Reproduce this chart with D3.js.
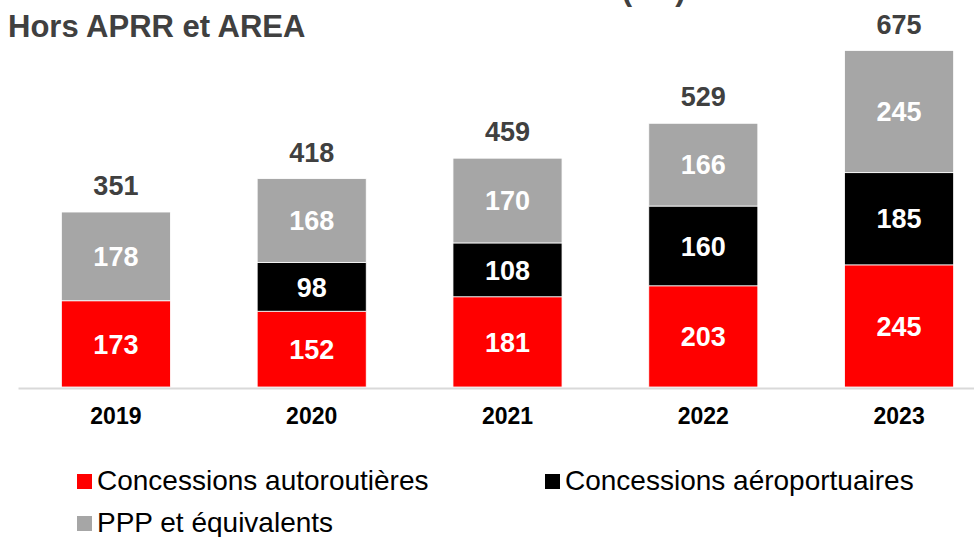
<!DOCTYPE html>
<meta charset="utf-8">
<style>
body { margin: 0; background: #fff; font-family: "Liberation Sans", Arial, sans-serif; }
svg { display: block; }
</style>
<body>
<script src="https://cdn.jsdelivr.net/npm/d3@7"></script>
<script>

// data
var years = ["2019", "2020", "2021", "2022", "2023"];
var autoroutes = [173, 152, 181, 203, 245];
var aeroports = [0, 98, 108, 160, 185];
var ppp = [178, 168, 170, 166, 245];
var totals = [351, 418, 459, 529, 675];
var seriesNames = ["Concessions autoroutières", "Concessions aéroportuaires", "PPP et équivalents"];
var seriesColors = ["#ff0000", "#000000", "#a6a6a6"];

var width = 974, height = 537;

var svg = d3.select("body").append("svg")
  .attr("width", width)
  .attr("height", height);

// title (first line is cut off at the top of the picture)
svg.append("text")
  .attr("x", 8).attr("y", 0)
  .style("font-size", "31px").style("font-weight", "bold").attr("fill", "#404040")
  .text("Chiffre d'affaires des autres concessions (M€)");
svg.append("text")
  .attr("x", 8).attr("y", 37)
  .style("font-size", "31px").style("font-weight", "bold").attr("fill", "#404040")
  .text("Hors APRR et AREA");

var x = d3.scaleBand()
  .domain(years)
  .range([18, 997])
  .paddingInner(0.443)
  .paddingOuter(0.2215);

var y = d3.scaleLinear()
  .domain([0, 675])
  .range([387, 50.5]);

var rows = years.map(function (yr, i) {
  return { year: yr, auto: autoroutes[i], aero: aeroports[i], ppp: ppp[i], total: totals[i] };
});

var stack = d3.stack().keys(["auto", "aero", "ppp"]);
var layers = stack(rows);

var g = svg.selectAll(".layer")
  .data(layers)
  .enter().append("g")
  .attr("class", "layer")
  .attr("fill", function (d, i) { return seriesColors[i]; });

g.selectAll("rect")
  .data(function (d) { return d.filter(function (s) { return s[1] - s[0] > 0; }); })
  .enter().append("rect")
  .attr("x", function (d) { return x(d.data.year); })
  .attr("y", function (d) { return y(d[1]); })
  .attr("width", x.bandwidth())
  .attr("height", function (d) { return y(d[0]) - y(d[1]); })
  .attr("stroke", "#ffffff")
  .attr("stroke-width", 0.8);

// segment labels
layers.forEach(function (layer) {
  svg.append("g").selectAll("text")
    .data(layer.filter(function (d) { return d[1] - d[0] > 0; }))
    .enter().append("text")
    .attr("x", function (d) { return x(d.data.year) + x.bandwidth() / 2; })
    .attr("y", function (d) { return (y(d[0]) + y(d[1])) / 2; })
    .attr("dy", "0.36em")
    .attr("text-anchor", "middle")
    .style("font-size", "27px").style("font-weight", "bold")
    .attr("fill", "#ffffff")
    .text(function (d) { return d[1] - d[0]; });
});

// totals
svg.append("g").selectAll("text")
  .data(rows)
  .enter().append("text")
  .attr("x", function (d) { return x(d.year) + x.bandwidth() / 2; })
  .attr("y", function (d) { return y(d.total) - 17; })
  .attr("text-anchor", "middle")
  .style("font-size", "27px").style("font-weight", "bold")
  .attr("fill", "#404040")
  .text(function (d) { return d.total; });

// x axis
var axis = svg.append("g")
  .attr("transform", "translate(0,388)")
  .call(d3.axisBottom(x).tickSize(0).tickPadding(20));
axis.select(".domain").attr("stroke", "#d9d9d9").attr("stroke-width", 2);
axis.selectAll("text")
  .style("font-size", "23px").style("font-weight", "bold")
  .attr("font-family", "Liberation Sans, Arial, sans-serif")
  .attr("fill", "#000");

// legend
var legendPos = [[77, 474], [545, 474], [77, 516]];
var leg = svg.append("g").selectAll("g")
  .data(seriesNames)
  .enter().append("g")
  .attr("transform", function (d, i) { return "translate(" + legendPos[i][0] + "," + legendPos[i][1] + ")"; });
leg.append("rect")
  .attr("width", 15).attr("height", 15)
  .attr("fill", function (d, i) { return seriesColors[i]; });
leg.append("text")
  .attr("x", 20).attr("y", 16)
  .style("font-size", "28px")
  .attr("fill", "#000")
  .text(function (d) { return d; });

</script>
</body>
